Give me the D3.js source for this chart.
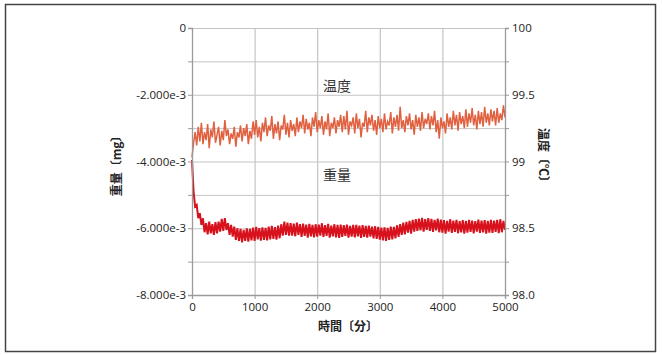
<!DOCTYPE html>
<html><head><meta charset="utf-8">
<script src="https://cdn.jsdelivr.net/npm/d3@7"></script>
<style>
html,body{margin:0;padding:0;background:#fff;}
svg{display:block;font-family:"Noto Sans CJK JP","Noto Sans",sans-serif;}
</style></head>
<body><svg id="c" width="662" height="355"></svg>
<script>
// time axis (minutes), sampled every 25 minutes
const timeStep = 25;
const xTicks = [0, 1000, 2000, 3000, 4000, 5000];
const weightTicks = [0, -2, -4, -6, -8];          // ×1e-3 mg
const tempTicks = [100, 99.5, 99, 98.5, 98.0];
const tempTickLabels = ["100", "99.5", "99", "98.5", "98.0"];

// temperature (°C), one value every 25 min
const temperature = [
 99.03,99.14,99.22,99.12,99.26,99.15,99.29,99.13,
 99.22,99.16,99.28,99.10,99.24,99.18,99.30,99.14,
 99.20,99.26,99.12,99.23,99.16,99.31,99.19,99.24,
 99.13,99.21,99.17,99.26,99.11,99.22,99.18,99.27,
 99.15,99.25,99.19,99.28,99.13,99.23,99.17,99.30,
 99.20,99.31,99.18,99.26,99.15,99.29,99.22,99.33,
 99.19,99.27,99.23,99.34,99.17,99.28,99.21,99.30,
 99.16,99.27,99.24,99.35,99.20,99.29,99.18,99.31,
 99.23,99.28,99.19,99.33,99.22,99.30,99.25,99.35,
 99.21,99.32,99.24,99.29,99.19,99.33,99.26,99.37,
 99.22,99.31,99.25,99.34,99.20,99.30,99.24,99.36,
 99.19,99.29,99.25,99.33,99.21,99.31,99.26,99.35,
 99.22,99.34,99.24,99.38,99.20,99.30,99.27,99.33,
 99.21,99.36,99.25,99.32,99.18,99.29,99.26,99.38,
 99.22,99.33,99.27,99.35,99.23,99.31,99.20,99.34,
 99.25,99.32,99.22,99.36,99.24,99.30,99.27,99.37,
 99.21,99.33,99.26,99.35,99.23,99.41,99.25,99.31,
 99.22,99.34,99.27,99.36,99.24,99.31,99.20,99.35,
 99.26,99.33,99.23,99.37,99.25,99.32,99.28,99.36,
 99.24,99.34,99.27,99.38,99.22,99.31,99.17,99.33,
 99.25,99.30,99.21,99.36,99.26,99.33,99.24,99.38,
 99.27,99.35,99.23,99.37,99.28,99.34,99.25,99.39,
 99.26,99.36,99.29,99.40,99.27,99.35,99.24,99.38,
 99.28,99.37,99.26,99.41,99.29,99.36,99.27,99.39,
 99.30,99.38,99.27,99.40,99.29,99.36,99.31,99.42,
 99.33
];

// weight change (×1e-3 mg), one value every 25 min
const weight = [
 -3.95,-4.90,-5.35,-5.30,-5.70,-5.55,-5.90,-5.70,
 -6.12,-5.85,-6.18,-5.80,-6.15,-5.88,-6.20,-5.82,
 -6.15,-5.80,-6.10,-5.72,-6.08,-5.70,-6.05,-5.85,
 -6.20,-5.90,-6.25,-5.95,-6.35,-6.00,-6.38,-6.02,
 -6.42,-6.05,-6.38,-6.00,-6.40,-6.02,-6.36,-5.98,
 -6.38,-5.96,-6.33,-6.00,-6.37,-5.97,-6.35,-5.99,
 -6.36,-5.95,-6.33,-5.93,-6.32,-5.97,-6.34,-5.92,
 -6.30,-5.88,-6.22,-5.80,-6.20,-5.83,-6.22,-5.85,
 -6.22,-5.86,-6.24,-5.83,-6.20,-5.88,-6.26,-5.86,
 -6.23,-5.89,-6.28,-5.87,-6.24,-5.90,-6.27,-5.88,
 -6.25,-5.89,-6.22,-5.85,-6.26,-5.91,-6.23,-5.87,
 -6.28,-5.92,-6.24,-5.88,-6.27,-5.90,-6.29,-5.89,
 -6.26,-5.91,-6.23,-5.89,-6.28,-5.93,-6.25,-5.90,
 -6.27,-5.90,-6.24,-5.92,-6.29,-5.91,-6.26,-5.93,
 -6.28,-5.92,-6.25,-5.95,-6.30,-5.94,-6.32,-5.96,
 -6.34,-5.98,-6.36,-5.97,-6.38,-5.99,-6.35,-5.95,
 -6.33,-5.96,-6.30,-5.91,-6.26,-5.88,-6.20,-5.83,
 -6.18,-5.81,-6.13,-5.78,-6.16,-5.75,-6.10,-5.73,
 -6.08,-5.71,-6.06,-5.69,-6.10,-5.73,-6.05,-5.70,
 -6.08,-5.72,-6.11,-5.75,-6.06,-5.71,-6.12,-5.74,
 -6.13,-5.76,-6.16,-5.78,-6.10,-5.73,-6.14,-5.77,
 -6.11,-5.75,-6.15,-5.79,-6.12,-5.76,-6.16,-5.78,
 -6.13,-5.75,-6.11,-5.77,-6.15,-5.79,-6.10,-5.74,
 -6.14,-5.77,-6.12,-5.76,-6.16,-5.78,-6.13,-5.75,
 -6.14,-5.77,-6.11,-5.75,-6.15,-5.73,-6.12,-5.78,
 -6.05
];

const svg = d3.select("#c");
const L = 192, R = 505, T = 28, B = 295;

// outer frame
svg.append("rect").attr("x",5.5).attr("y",4.5).attr("width",650).attr("height",347)
  .attr("fill","none").attr("stroke","#444").attr("stroke-width",1.5);

const x = d3.scaleLinear().domain([0,5000]).range([L,R]);
const yW = d3.scaleLinear().domain([-8,0]).range([B,T]);
const yT = d3.scaleLinear().domain([98,100]).range([B,T]);

const gridColor = "#c4c4c4", axisColor = "#9a9a9a";

// grid
const g = svg.append("g");
g.selectAll(".hg").data(d3.range(-8,0.5,1)).join("line")
  .attr("x1",L).attr("x2",R).attr("y1",d=>yW(d)+0.5).attr("y2",d=>yW(d)+0.5)
  .attr("stroke",gridColor).attr("stroke-width",1);
g.selectAll(".vg").data(xTicks.slice(1,-1)).join("line")
  .attr("y1",T).attr("y2",B).attr("x1",d=>x(d)+0.5).attr("x2",d=>x(d)+0.5)
  .attr("stroke",gridColor).attr("stroke-width",1.2);

// series
const times = d3.range(0, 5000 + timeStep, timeStep);
const lineT = d3.line().x((d,i)=>x(times[i])).y(d=>yT(d));
const lineW = d3.line().x((d,i)=>x(times[i])).y(d=>yW(d));
svg.append("path").datum(temperature).attr("d",lineT)
  .attr("fill","none").attr("stroke","#e0603f").attr("stroke-width",1.5);
svg.append("path").datum(weight).attr("d",lineW)
  .attr("fill","none").attr("stroke","#d8121d").attr("stroke-width",2);

// axes
const fmtW = d => d === 0 ? "0" : d3.format(".3f")(d).replace("\u2212","-") + "e-3";
const leftAxis = d3.axisLeft(yW).tickValues(d3.range(-8,0.5,1)).tickSize(4).tickPadding(2)
  .tickFormat(d => weightTicks.includes(d) ? fmtW(d) : "");
const rightAxis = d3.axisRight(yT).tickValues(d3.range(98,100.01,0.25)).tickSize(4).tickPadding(3)
  .tickFormat(d => { const k = tempTicks.findIndex(v=>Math.abs(v-d)<1e-6); return k>=0 ? tempTickLabels[k] : ""; });
const bottomAxis = d3.axisBottom(x).tickValues(xTicks).tickSize(4).tickPadding(4).tickFormat(d3.format("d"));

function style(sel){
  sel.select(".domain").attr("stroke",axisColor).attr("stroke-width",1.3);
  sel.selectAll(".tick line").attr("stroke",axisColor);
  sel.selectAll("text").attr("fill","#222").style("font-size","11.5px")
     .style("font-family","'Open Sans','Noto Sans',sans-serif");
}
svg.append("g").attr("transform",`translate(${L},0)`).call(leftAxis).call(style);
svg.append("g").attr("transform",`translate(${R},0)`).call(rightAxis).call(style);
svg.append("g").attr("transform",`translate(0,${B})`).call(bottomAxis).call(style);

// titles
svg.append("text").attr("x",348).attr("y",331).attr("text-anchor","middle")
  .style("font-size","12px").style("font-weight","bold").attr("fill","#222").text("時間〔分〕");
svg.append("text").attr("transform","translate(121,163) rotate(-90)").attr("text-anchor","middle")
  .style("font-size","12px").style("font-weight","bold").attr("fill","#222").text("重量〔mg〕");
svg.append("text").attr("transform","translate(539,158) rotate(90)").attr("text-anchor","middle")
  .style("font-size","12px").style("font-weight","bold").attr("fill","#222").text("温度〔℃〕");

// annotations
svg.append("text").attr("x",337).attr("y",91).attr("text-anchor","middle")
  .style("font-size","14px").attr("fill","#333").text("温度");
svg.append("text").attr("x",337).attr("y",180).attr("text-anchor","middle")
  .style("font-size","14px").attr("fill","#333").text("重量");
</script></body></html>
